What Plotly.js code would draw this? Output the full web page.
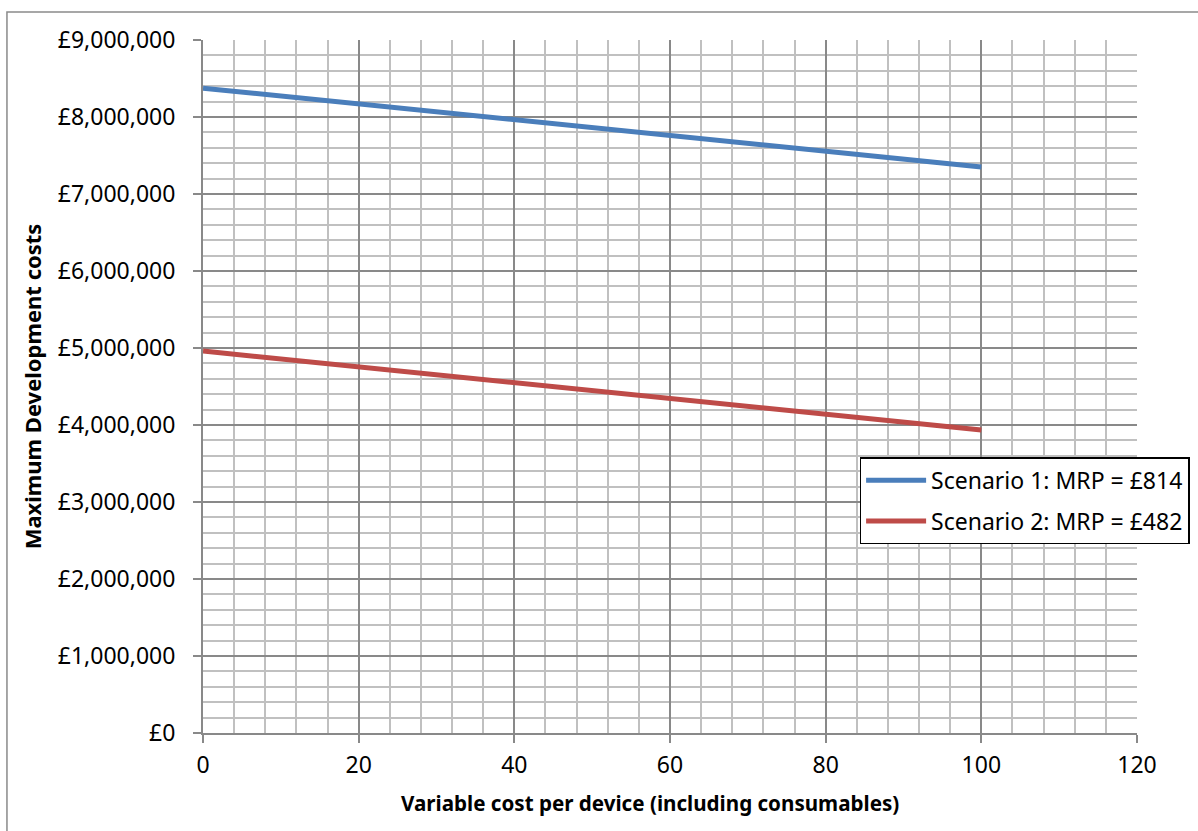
<!DOCTYPE html>
<html><head><meta charset="utf-8">
<script src="https://cdn.plot.ly/plotly-3.0.1.min.js"></script>
<style>html,body{margin:0;padding:0;background:#fff}#c{width:1198px;height:831px}</style>
</head><body><div id="c"></div>
<script>
const variableCost = [0, 20, 40, 60, 80, 100];
const scenario1 = [8375000, 8170000, 7965000, 7760000, 7555000, 7350000];
const scenario2 = [4960000, 4755000, 4550000, 4345000, 4140000, 3935000];
const seriesNames = ['Scenario 1: MRP = £814', 'Scenario 2: MRP = £482'];
const yTickVals = [0,1000000,2000000,3000000,4000000,5000000,6000000,7000000,8000000,9000000];
const yTickText = ['£0','£1,000,000','£2,000,000','£3,000,000','£4,000,000','£5,000,000','£6,000,000','£7,000,000','£8,000,000','£9,000,000'];
const xTitle = 'Variable cost per device (including consumables)';
const yTitle = 'Maximum Development costs';

const font = 'Noto Sans, Open Sans, sans-serif';
const traces = [
  {x: variableCost, y: scenario1, name: seriesNames[0], legendgroup: 'g1', mode: 'lines', line: {color: '#4a7ebb', width: 5}},
  {x: variableCost, y: scenario2, name: seriesNames[1], legendgroup: 'g2', mode: 'lines', line: {color: '#be4b48', width: 5}}
];
const layout = {
  width: 1198, height: 831,
  margin: {l: 203, r: 61, t: 40, b: 98, autoexpand: false},
  paper_bgcolor: '#fff', plot_bgcolor: '#fff',
  font: {family: font, size: 23, color: '#000'},
  showlegend: true,
  legend: {x: 0.703, y: 0.398, xanchor: 'left', yanchor: 'top', bgcolor: '#fff',
           bordercolor: '#000', borderwidth: 1.5, font: {family: font, size: 23, color: '#000'},
           traceorder: 'grouped', tracegroupgap: 8, itemwidth: 60},
  xaxis: {range: [0, 120], dtick: 20, tick0: 0, showgrid: true, gridcolor: '#898989', gridwidth: 2,
          zeroline: false, showline: true, linecolor: '#898989', linewidth: 2, automargin: false,
          ticks: 'outside', ticklen: 8, tickcolor: '#898989', tickwidth: 2, ticklabelstandoff: 2,
          tickfont: {family: font, size: 23},
          minor: {dtick: 4, showgrid: true, gridcolor: '#c0c0c0', gridwidth: 2, ticks: ''},
          fixedrange: true},
  yaxis: {range: [0, 9000000], tickvals: yTickVals, ticktext: yTickText, showgrid: true, gridcolor: '#898989', gridwidth: 2,
          zeroline: false, showline: true, linecolor: '#898989', linewidth: 2, automargin: false,
          ticks: 'outside', ticklen: 8, tickcolor: '#898989', tickwidth: 2, ticklabelstandoff: 13,
          tickfont: {family: font, size: 23},
          minor: {dtick: 200000, tick0: 0, showgrid: true, gridcolor: '#c0c0c0', gridwidth: 2, ticks: ''},
          title: {text: '<b>' + yTitle + '</b>', font: {family: font, size: 22}, standoff: 10},
          fixedrange: true},
  annotations: [{text: '<b>' + xTitle + '</b>', xref: 'paper', yref: 'paper', x: 0.4786, y: -0.101,
                 xanchor: 'center', yanchor: 'middle', showarrow: false, font: {family: font, size: 20.6, color: '#000'}}],
  shapes: [{type: 'rect', xref: 'paper', yref: 'paper', x0: -0.2099, x1: 1.2, y0: -0.2, y1: 1.0404,
            line: {color: '#8a8a8a', width: 1.5}, fillcolor: 'rgba(0,0,0,0)', layer: 'below'}]
};
Plotly.newPlot('c', traces, layout, {displayModeBar: false, staticPlot: true});
</script></body></html>
